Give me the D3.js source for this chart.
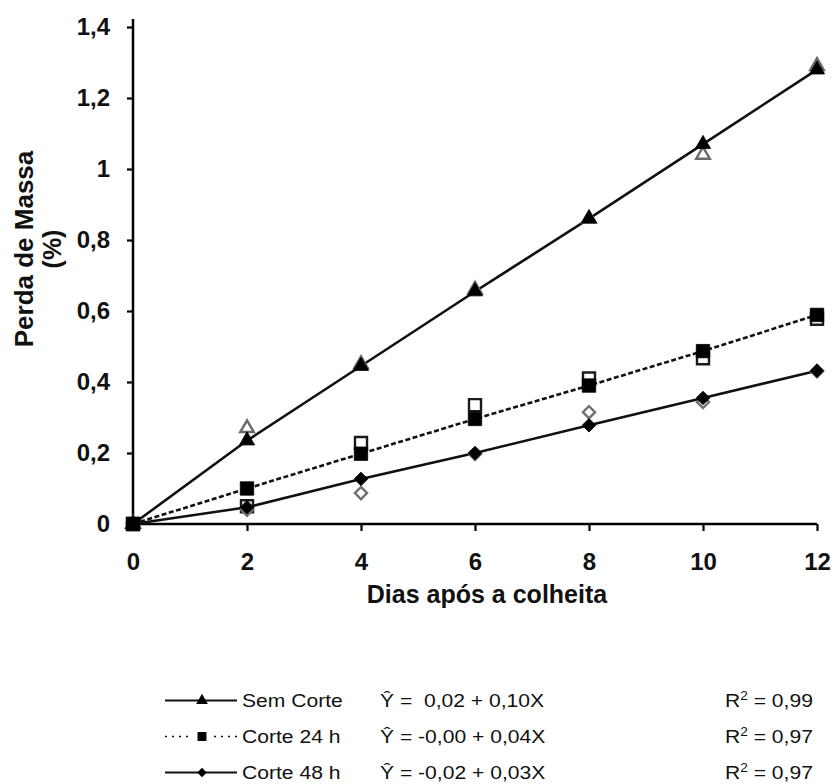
<!DOCTYPE html>
<html>
<head>
<meta charset="utf-8">
<script src="https://cdn.jsdelivr.net/npm/d3@7"></script>
<style>
  html, body { margin: 0; padding: 0; background: #fff; }
  svg { display: block; }
  text { font-family: Arial, "Liberation Sans", Helvetica, sans-serif; }
</style>
</head>
<body>
<svg id="chart" width="835" height="784"></svg>
<script>
// Days after harvest
const days = [0, 2, 4, 6, 8, 10, 12];

// Mass loss (%) – observed values (open markers)
const semCorteObs = [0, 0.27, 0.45, 0.66, 0.86, 1.04, 1.29];
const corte24Obs  = [0, 0.05, 0.228, 0.335, 0.41, 0.467, 0.578];
const corte48Obs  = [0, 0.04, 0.087, 0.197, 0.315, 0.344, 0.43];

// Mass loss (%) – fitted values (filled markers, joined by the line)
const semCorteFit = [0, 0.235, 0.445, 0.655, 0.86, 1.07, 1.28];
const corte24Fit  = [0, 0.10, 0.198, 0.296, 0.39, 0.487, 0.589];
const corte48Fit  = [0, 0.047, 0.127, 0.20, 0.278, 0.355, 0.432];

// Axis ticks
const xTicks = [0, 2, 4, 6, 8, 10, 12];
const xTickLabels = ["0", "2", "4", "6", "8", "10", "12"];
const yTicks = [0, 0.2, 0.4, 0.6, 0.8, 1.0, 1.2, 1.4];
const yTickLabels = ["0", "0,2", "0,4", "0,6", "0,8", "1", "1,2", "1,4"];

// Legend content
const seriesNames = ["Sem Corte", "Corte 24 h", "Corte 48 h"];
const equations = ["Ŷ =  0,02 + 0,10X", "Ŷ = -0,00 + 0,04X", "Ŷ = -0,02 + 0,03X"];
const r2Values = ["0,99", "0,97", "0,97"];

const series = [
  { name: seriesNames[0], obs: semCorteObs, fit: semCorteFit, symbol: d3.symbolTriangle, size: 100, rot: 0,  openStroke: "#6a6a6a", dash: null },
  { name: seriesNames[1], obs: corte24Obs,  fit: corte24Fit,  symbol: d3.symbolSquare,   size: 180, rot: 0,  openStroke: "#1a1a1a", dash: "5,2.5" },
  { name: seriesNames[2], obs: corte48Obs,  fit: corte48Fit,  symbol: d3.symbolSquare,   size: 92,  rot: 45, openStroke: "#707070", dash: null }
];

const svg = d3.select("#chart");

const x = d3.scaleLinear().domain([0, 12]).range([133, 817]);
const y = d3.scaleLinear().domain([0, 1.4]).range([524, 27]);

// ---- Axes ----
const yAxis = d3.axisLeft(y)
  .tickValues(yTicks)
  .tickFormat((d, i) => yTickLabels[i])
  .tickSize(6)
  .tickSizeOuter(0)
  .tickPadding(17);

const gy = svg.append("g")
  .attr("transform", `translate(${x(0)},0)`)
  .call(yAxis);
gy.select(".domain").remove();
gy.append("line")
  .attr("x1", 0).attr("x2", 0)
  .attr("y1", y(0)).attr("y2", y(1.4) - 8)
  .attr("stroke", "#000").attr("stroke-width", 2.5);
gy.selectAll(".tick line").attr("stroke", "#000").attr("stroke-width", 2.2);
gy.selectAll(".tick text")
  .attr("fill", "#111")
  .style("font-size", "24px")
  .style("font-weight", "bold");

const xAxis = d3.axisBottom(x)
  .tickValues(xTicks)
  .tickFormat((d, i) => xTickLabels[i])
  .tickSize(7)
  .tickSizeOuter(0)
  .tickPadding(22);

const gx = svg.append("g")
  .attr("transform", `translate(0,${y(0)})`)
  .call(xAxis);
gx.select(".domain").remove();
gx.append("line")
  .attr("x1", x(0)).attr("x2", x(12))
  .attr("y1", 0).attr("y2", 0)
  .attr("stroke", "#000").attr("stroke-width", 2.5);
gx.selectAll(".tick line").attr("stroke", "#000").attr("stroke-width", 2.2);
gx.selectAll(".tick text")
  .attr("fill", "#111")
  .attr("dy", "0.71em")
  .style("font-size", "24px")
  .style("font-weight", "bold");

// Axis titles
svg.append("text")
  .attr("x", (x(0) + x(12)) / 2 + 12)
  .attr("y", 603)
  .attr("text-anchor", "middle")
  .attr("fill", "#111")
  .style("font-size", "25px")
  .style("font-weight", "bold")
  .text("Dias após a colheita");

svg.append("text")
  .attr("transform", "translate(33,249) rotate(-90)")
  .attr("text-anchor", "middle")
  .attr("fill", "#111")
  .style("font-size", "26px")
  .style("font-weight", "bold")
  .text("Perda de Massa");

svg.append("text")
  .attr("transform", "translate(61,249) rotate(-90)")
  .attr("text-anchor", "middle")
  .attr("fill", "#111")
  .style("font-size", "25px")
  .style("font-weight", "bold")
  .text("(%)");

// ---- Series ----
const line = d3.line()
  .x((d, i) => x(days[i]))
  .y(d => y(d));

const plot = svg.append("g");

// Fitted lines
series.forEach(s => {
  plot.append("path")
    .datum(s.fit)
    .attr("d", line)
    .attr("fill", "none")
    .attr("stroke", "#111")
    .attr("stroke-width", 2.6)
    .attr("stroke-dasharray", s.dash);
});

// Observed values (open markers)
series.forEach(s => {
  plot.append("g").selectAll("path")
    .data(s.obs)
    .join("path")
    .attr("transform", (d, i) => `translate(${x(days[i])},${y(d)}) rotate(${s.rot})`)
    .attr("d", d3.symbol().type(s.symbol).size(s.size * 0.8))
    .attr("fill", "#fff")
    .attr("stroke", s.openStroke)
    .attr("stroke-width", 2.4);
});

// Fitted values (filled markers)
series.forEach(s => {
  plot.append("g").selectAll("path")
    .data(s.fit)
    .join("path")
    .attr("transform", (d, i) => `translate(${x(days[i])},${y(d)}) rotate(${s.rot})`)
    .attr("d", d3.symbol().type(s.symbol).size(s.size))
    .attr("fill", "#000")
    .attr("stroke", "#000")
    .attr("stroke-width", 0.8);
});

// ---- Legend ----
const legendBaselines = [707, 743, 779];
const legend = svg.append("g");

// legend text is set slightly wide
function legendText(parent, xPos) {
  return parent.append("g")
    .attr("transform", `translate(${xPos},0) scale(1.14,1)`)
    .append("text")
    .attr("fill", "#111")
    .style("font-size", "18.5px")
    .style("white-space", "pre");
}

series.forEach((s, i) => {
  const row = legend.append("g").attr("transform", `translate(0,${legendBaselines[i]})`);
  const mid = -6.5;
  row.append("line")
    .attr("x1", 165).attr("x2", 237)
    .attr("y1", mid).attr("y2", mid)
    .attr("stroke", "#111")
    .attr("stroke-width", i === 1 ? 1.6 : 2)
    .attr("stroke-dasharray", i === 1 ? "2,5" : null);
  if (i === 1) {
    // gap around the marker on the dotted sample
    row.append("rect").attr("x", 193).attr("y", mid - 4).attr("width", 18).attr("height", 8).attr("fill", "#fff");
  }
  row.append("path")
    .attr("transform", `translate(202,${mid}) rotate(${s.rot})`)
    .attr("d", d3.symbol().type(s.symbol).size(i === 0 ? 60 : (i === 1 ? 80 : 45)))
    .attr("fill", "#000");
  legendText(row, 242).text(s.name);
  legendText(row, 380).text(equations[i]);
  const r = legendText(row, 725);
  r.append("tspan").text("R");
  r.append("tspan").attr("dy", -7).style("font-size", "12px").text("2");
  r.append("tspan").attr("dy", 7).text(" = " + r2Values[i]);
});
</script>
</body>
</html>
